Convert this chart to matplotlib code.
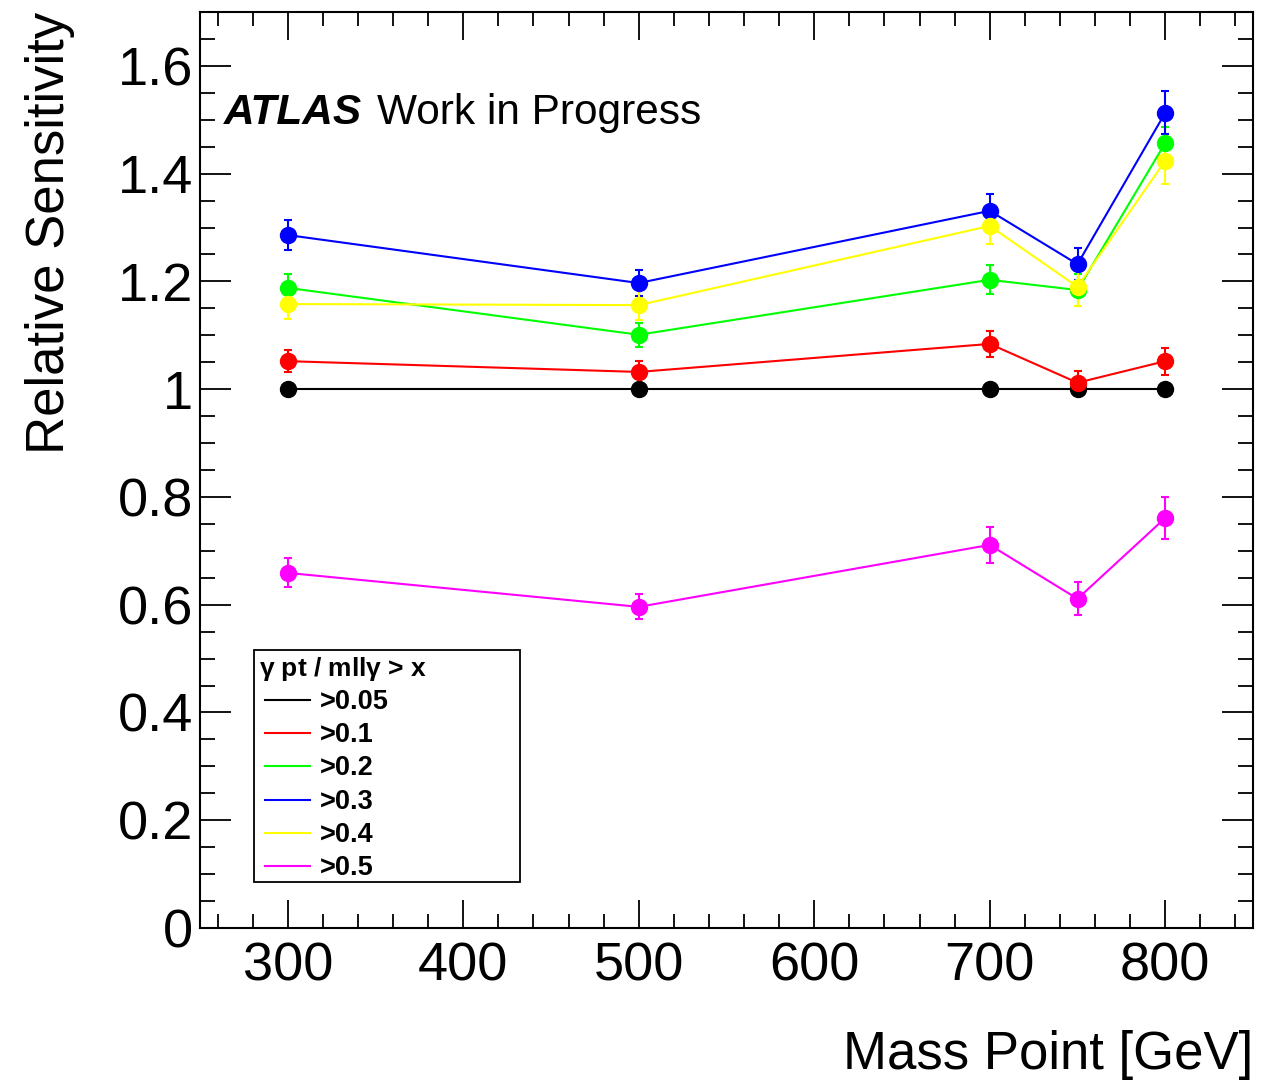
import matplotlib
matplotlib.use("Agg")
import matplotlib.pyplot as plt
from matplotlib.lines import Line2D
from matplotlib.patches import Rectangle
from matplotlib.ticker import MultipleLocator

plt.rcParams['font.family'] = ['Liberation Sans', 'DejaVu Sans']
plt.rcParams['mathtext.default'] = 'regular'

mass = [300, 500, 700, 750, 800]
labels = [">0.05", ">0.1", ">0.2", ">0.3", ">0.4", ">0.5"]
colors = ["#000000", "#ff0000", "#00ff00", "#0000ff", "#ffff00", "#ff00ff"]
ytick_vals = [0, 0.2, 0.4, 0.6, 0.8, 1.0, 1.2, 1.4, 1.6]
ytick_labels = ["0", "0.2", "0.4", "0.6", "0.8", "1", "1.2", "1.4", "1.6"]

s005 = [1.0, 1.0, 1.0, 1.0, 1.0]
e005 = [0.0, 0.0, 0.0, 0.0, 0.0]
s01 = [1.052, 1.032, 1.084, 1.012, 1.052]
e01 = [0.021, 0.021, 0.024, 0.022, 0.025]
s02 = [1.188, 1.101, 1.203, 1.184, 1.457]
e02 = [0.025, 0.022, 0.027, 0.030, 0.030]
s03 = [1.286, 1.197, 1.331, 1.232, 1.513]
e03 = [0.028, 0.024, 0.031, 0.030, 0.040]
s04 = [1.158, 1.156, 1.303, 1.190, 1.424]
e04 = [0.028, 0.028, 0.033, 0.035, 0.044]
s05 = [0.659, 0.596, 0.711, 0.611, 0.761]
e05 = [0.027, 0.023, 0.033, 0.031, 0.039]

series = [(s005, e005), (s01, e01), (s02, e02), (s03, e03), (s04, e04), (s05, e05)]

W, H = 1287, 1080
fig = plt.figure(figsize=(W/100, H/100), dpi=100)
ax = fig.add_axes([200/W, 1 - 928/H, (1253-200)/W, (928-12)/H])

for (vals, errs), c in zip(series, colors):
    ax.errorbar(mass, vals, yerr=errs, color=c, marker='o', markersize=11.5,
                linewidth=1.5, elinewidth=1.5, capsize=2.8, capthick=1.5)

ax.set_xlim(250, 850)
ax.set_ylim(0, 1.7)
ax.xaxis.set_major_locator(MultipleLocator(100))
ax.xaxis.set_minor_locator(MultipleLocator(20))
ax.yaxis.set_minor_locator(MultipleLocator(0.05))
ax.set_yticks(ytick_vals)
ax.set_yticklabels(ytick_labels)

ax.tick_params(which='both', direction='in', top=True, right=True, width=1.3, labelsize=39)
ax.tick_params(which='major', axis='x', length=20, pad=10)
ax.tick_params(which='minor', axis='x', length=10)
ax.tick_params(which='major', axis='y', length=22, pad=5)
ax.tick_params(which='minor', axis='y', length=11)
for sp in ax.spines.values():
    sp.set_linewidth(1.5)

fig.text(1253/W, 1 - 1055/H, "Mass Point [GeV]", fontsize=38, ha='right', va='center')
fig.text(50/W, 1 - 12/H, "Relative Sensitivity", fontsize=38, rotation=90, ha='center', va='top')

fig.text(224/W, 1 - 113/H, "ATLAS", fontsize=30.5, fontweight='bold', style='italic', va='center', ha='left')
fig.text(377/W, 1 - 113/H, "Work in Progress", fontsize=30.5, va='center', ha='left')

# legend drawn manually (ROOT-style fixed box)
lx0, ly0, lx1, ly1 = 254, 650, 520, 882
fig.patches.append(Rectangle((lx0/W, 1 - ly1/H), (lx1-lx0)/W, (ly1-ly0)/H,
                             transform=fig.transFigure, fill=True, facecolor='white',
                             edgecolor='black', linewidth=1.3, zorder=5))
fig.text(259/W, 1 - 669/H, r"$\gamma$ pt / mll$\gamma$ > x", fontsize=19,
         fontweight='bold', va='center', ha='left', zorder=6)
for i, (lab, c) in enumerate(zip(labels, colors)):
    yy = 701 + i * 33.2
    fig.lines.append(Line2D([265/W, 310/W], [1 - (yy - 1)/H, 1 - (yy - 1)/H], color=c, lw=1.5,
                            transform=fig.transFigure, zorder=6))
    fig.text(320/W, 1 - (yy + 1)/H, lab, fontsize=19.5, fontweight='bold', va='center', ha='left', zorder=6)

fig.savefig("out.png", dpi=100)
